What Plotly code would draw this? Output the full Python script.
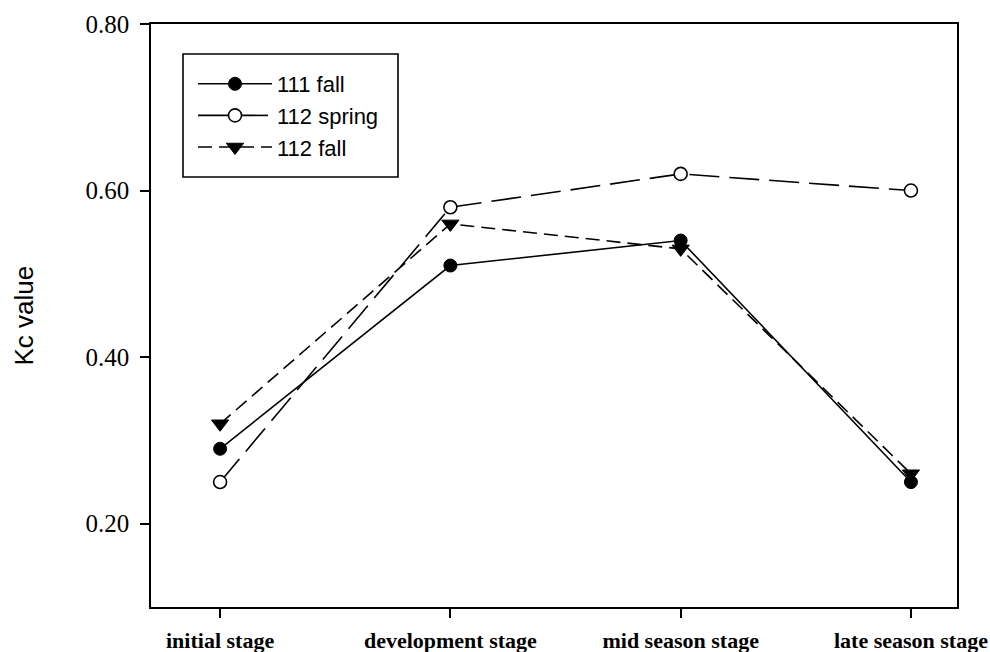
import plotly.graph_objects as go

stages = ["initial stage", "development stage", "mid season stage", "late season stage"]
fall_111 = [0.29, 0.51, 0.54, 0.25]
spring_112 = [0.25, 0.58, 0.62, 0.60]
fall_112 = [0.32, 0.56, 0.53, 0.26]
y_ticks = [0.20, 0.40, 0.60, 0.80]
y_tick_labels = ["0.20", "0.40", "0.60", "0.80"]

W, H = 990, 652
L, R, T, B = 151, 957, 24, 607
pw, ph = R - L, B - T

def px(xp):
    return (xp - L) / pw

def py(yp):
    return (B - yp) / ph

fig = go.Figure()
fig.add_trace(go.Scatter(
    x=stages, y=fall_111, name="111 fall", mode="lines+markers",
    line=dict(color="black", width=1.6),
    marker=dict(symbol="circle", size=13, color="black", line=dict(color="black", width=1)),
))
fig.add_trace(go.Scatter(
    x=stages, y=spring_112, name="112 spring", mode="lines+markers",
    line=dict(color="black", width=1.6, dash="30px,10px"),
    marker=dict(symbol="circle", size=13, color="white", line=dict(color="black", width=1.6)),
))
fig.add_trace(go.Scatter(
    x=stages, y=fall_112, name="112 fall", mode="lines+markers",
    line=dict(color="black", width=1.6, dash="14px,7px"),
    marker=dict(symbol="triangle-down", size=15, color="black", line=dict(color="black", width=1)),
))

fig.update_layout(
    width=W, height=H,
    margin=dict(l=L, r=W - R, t=T, b=H - B, autoexpand=False),
    plot_bgcolor="white", paper_bgcolor="white",
    showlegend=True,
    legend=dict(
        x=px(193), y=py(63), xanchor="left", yanchor="top",
        borderwidth=0, bgcolor="rgba(0,0,0,0)",
        font=dict(family="Liberation Sans, Arial, sans-serif", size=22, color="black"),
        itemwidth=74,
    ),
    shapes=[dict(
        type="rect", xref="paper", yref="paper",
        x0=px(183), x1=px(398), y0=py(177), y1=py(54),
        line=dict(color="black", width=1.6), fillcolor="rgba(0,0,0,0)", layer="above",
    )],
    annotations=[dict(
        text="Kc value", xref="paper", yref="paper", x=px(23), y=0.5,
        xanchor="center", yanchor="middle", showarrow=False, textangle=-90,
        font=dict(family="Liberation Sans, Arial, sans-serif", size=26, color="black"),
    )],
)
fig.update_xaxes(
    type="category", range=[-0.3, 3.2], automargin=False,
    showline=True, linecolor="black", linewidth=1.6, mirror=True,
    ticks="outside", ticklen=9, tickwidth=1.6, tickcolor="black",
    showgrid=False, zeroline=False, ticklabelstandoff=4,
    tickfont=dict(family="Liberation Serif, Times New Roman, serif", size=22, color="black", weight="bold"),
)
fig.update_yaxes(
    range=[0.1, 0.8], tickvals=y_ticks, ticktext=y_tick_labels, automargin=False,
    showline=True, linecolor="black", linewidth=1.6, mirror=True,
    ticks="outside", ticklen=9, tickwidth=1.6, tickcolor="black",
    showgrid=False, zeroline=False, ticklabelstandoff=6,
    tickfont=dict(family="Liberation Serif, Times New Roman, serif", size=25, color="black"),
)

fig.write_html(
    "out.html",
    config={"displayModeBar": False},
    post_script="document.body.style.margin='0';document.documentElement.style.overflow='hidden';document.body.style.overflow='hidden';",
)
